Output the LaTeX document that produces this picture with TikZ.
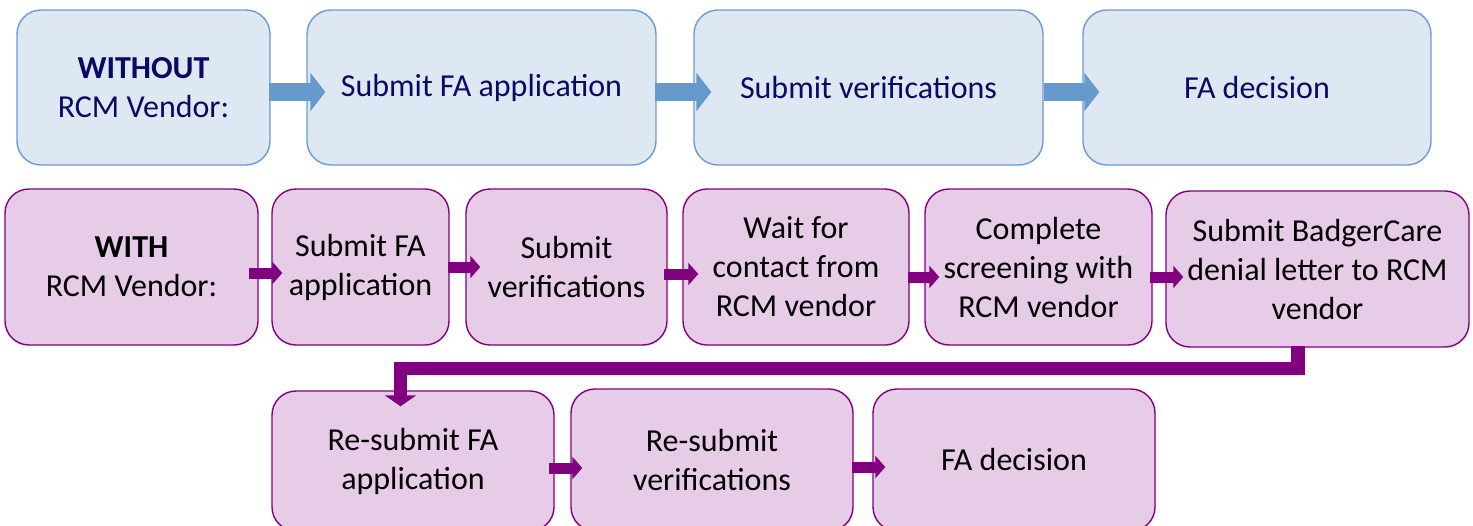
\documentclass[tikz,border=0pt]{standalone}
\usepackage{fontspec}
\setmainfont{Carlito}
\usetikzlibrary{arrows.meta}
\definecolor{bfill}{RGB}{222,232,243}
\definecolor{bdraw}{RGB}{108,155,210}
\definecolor{barr}{RGB}{102,153,204}
\definecolor{btext}{RGB}{10,10,100}
\definecolor{pfill}{RGB}{230,204,230}
\definecolor{pdraw}{RGB}{128,0,128}
\tikzset{
  box/.style={rounded corners=24pt, line width=1.4pt, inner sep=0pt, align=center,
    font=\fontsize{32}{39}\selectfont},
  bluebox/.style={box, fill=bfill, draw=bdraw, text=btext},
  purplebox/.style={box, fill=pfill, draw=pdraw, text=black},
  barrow/.style={draw=barr, line width=18pt, -{Triangle[length=15pt,width=38pt]}},
  parrow/.style={draw=pdraw, line width=11pt, -{Triangle[length=10pt,width=22pt]}},
  pelbow/.style={draw=pdraw, line width=13.5pt, -{Triangle[length=11pt,width=31pt]}},
}
\begin{document}
\begin{tikzpicture}[x=1pt,y=-1pt]
\useasboundingbox (0,0) rectangle (1473,525);
\clip (0,0) rectangle (1473,525);
% top row
\node[bluebox, minimum width=253pt, minimum height=155pt] (t1) at (143.5,87.5) {\textbf{WITHOUT}\\RCM Vendor:};
\node[bluebox, minimum width=349pt, minimum height=155pt] (t2) at (481.5,87.5) {Submit FA application};
\node[bluebox, minimum width=349pt, minimum height=155pt] (t3) at (868.5,87.5) {Submit verifications};
\node[bluebox, minimum width=348pt, minimum height=155pt] (t4) at (1257,87.5) {FA decision};
% middle row
\node[purplebox, minimum width=253pt, minimum height=156pt] (m1) at (131.5,267) {\textbf{WITH}\\RCM Vendor:};
\node[purplebox, minimum width=177pt, minimum height=156pt] (m2) at (360.5,267) {Submit FA\\application};
\node[purplebox, minimum width=201pt, minimum height=156pt] (m3) at (566.5,267) {Submit\\verifications};
\node[purplebox, minimum width=226pt, minimum height=156pt] (m4) at (796,267) {Wait for\\contact from\\RCM vendor};
\node[purplebox, minimum width=227pt, minimum height=156pt] (m5) at (1038.5,267) {Complete\\screening with\\RCM vendor};
\node[purplebox, minimum width=303pt, minimum height=156pt] (m6) at (1317.5,269) {Submit BadgerCare\\denial letter to RCM\\vendor};
% bottom row
\node[purplebox, minimum width=282pt, minimum height=140pt] (b1) at (413,461) {Re-submit FA\\application};
\node[purplebox, minimum width=282pt, minimum height=142pt] (b2) at (712,460) {Re-submit\\verifications};
\node[purplebox, minimum width=282pt, minimum height=142pt] (b3) at (1014,460) {FA decision};
% top arrows
\draw[barrow] ([xshift=-2pt,yshift=-4.5pt]t1.east) -- ([xshift=19pt,yshift=-4.5pt]t2.west);
\draw[barrow] ([xshift=-2pt,yshift=-4.5pt]t2.east) -- ([xshift=18pt,yshift=-4.5pt]t3.west);
\draw[barrow] ([xshift=0pt,yshift=-4.5pt]t3.east) -- ([xshift=17pt,yshift=-4.5pt]t4.west);
% middle arrows
\draw[parrow] ([xshift=-10pt,yshift=-6pt]m1.east) -- ([xshift=11pt,yshift=-6pt]m2.west);
\draw[parrow] ([xshift=-2pt,yshift=0pt]m2.east) -- ([xshift=15pt,yshift=0pt]m3.west);
\draw[parrow] ([xshift=-4pt,yshift=-7pt]m3.east) -- ([xshift=16pt,yshift=-7pt]m4.west);
\draw[parrow] ([xshift=-2pt,yshift=-10pt]m4.east) -- ([xshift=15pt,yshift=-10pt]m5.west);
\draw[parrow] ([xshift=-3pt,yshift=-10pt]m5.east) -- ([xshift=18pt,yshift=-8pt]m6.west);
% elbow connector
\draw[pelbow] ([xshift=-19.5pt,yshift=2pt]m6.south) -- ++(0,23) -| ([xshift=-12.5pt,yshift=-16pt]b1.north);
% bottom arrows
\draw[parrow] ([xshift=-6pt,yshift=-7pt]b1.east) -- ([xshift=12pt,yshift=-8pt]b2.west);
\draw[parrow] ([xshift=-2pt,yshift=-7pt]b2.east) -- ([xshift=13pt,yshift=-7pt]b3.west);
\end{tikzpicture}
\end{document}
